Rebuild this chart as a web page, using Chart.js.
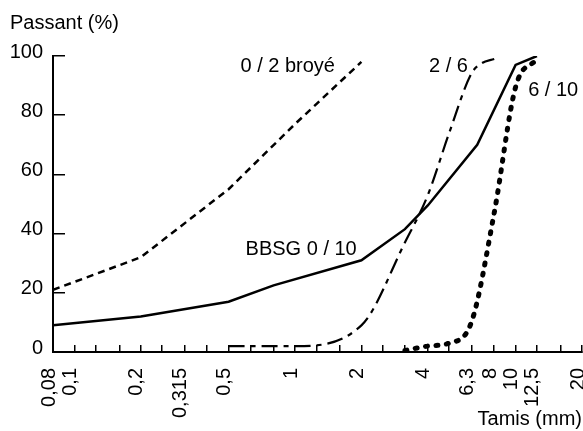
<!DOCTYPE html>
<html>
<head>
<meta charset="utf-8">
<script src="https://cdn.jsdelivr.net/npm/chart.js@4/dist/chart.umd.min.js"></script>
<style>
  html, body { margin: 0; padding: 0; background: #fff; }
  #c { display: block; }
</style>
</head>
<body>
<canvas id="c" width="583" height="431"></canvas>
<script>
// ---- data ----
const sieveSizes = [0.08, 0.1, 0.125, 0.16, 0.2, 0.25, 0.315, 0.4, 0.5, 0.63, 0.8, 1, 1.25, 1.6, 2, 2.5, 3.15, 4, 5, 6.3, 8, 10, 12.5, 16, 20];
const sieveLabels = [0.08, 0.1, 0.2, 0.315, 0.5, 1, 2, 4, 6.3, 8, 10, 12.5, 20];
const yTicks = [0, 20, 40, 60, 80, 100];

const broyeX = [0.08, 0.2, 0.5, 1, 2];
const broyeY = [21, 32, 55, 77, 98];

const bbsgX = [0.08, 0.2, 0.5, 0.8, 2, 3.15, 4, 6.7, 10, 12.5];
const bbsgY = [9, 12, 17, 22.5, 31, 41.5, 49.5, 70, 97, 100];

const g26X = [0.5, 1, 2, 3.15, 4, 5, 6.3, 7, 8];
const g26Y = [2, 2, 9, 37, 53, 74, 94, 97.5, 99];

const g610X = [3.15, 4, 5, 6.3, 8, 10, 12.5];
const g610Y = [0.5, 2, 3, 10, 47, 89.5, 99];

const annText = ['0 / 2 broyé', '2 / 6', '6 / 10', 'BBSG 0 / 10'];
const annX = [0.566, 4.05, 11.4, 0.597];
const annY = [96.3, 96.5, 88.2, 34.5];

// ---- chart ----
const FONT = "'Liberation Sans', Arial, Helvetica, sans-serif";
const FS = 20;
const pts = (xs, ys) => xs.map((x, i) => ({ x: x, y: ys[i] }));

const annotations = {
  id: 'annotations',
  afterDatasetsDraw(chart) {
    const { ctx, scales } = chart;
    ctx.save();
    ctx.fillStyle = '#000';
    ctx.font = FS + 'px ' + FONT;
    ctx.textAlign = 'left';
    ctx.textBaseline = 'middle';
    annText.forEach((t, i) => {
      ctx.fillText(t, scales.x.getPixelForValue(annX[i]), scales.y.getPixelForValue(annY[i]));
    });
    ctx.restore();
  }
};

new Chart(document.getElementById('c'), {
  type: 'line',
  data: {
    datasets: [
      { label: '0 / 2 broyé', data: pts(broyeX, broyeY), borderColor: '#000', borderWidth: 2.5, borderDash: [7, 5], pointRadius: 0, tension: 0, fill: false },
      { label: 'BBSG 0 / 10', data: pts(bbsgX, bbsgY), borderColor: '#000', borderWidth: 2.5, pointRadius: 0, tension: 0, fill: false },
      { label: '2 / 6', data: pts(g26X, g26Y), borderColor: '#000', borderWidth: 2.2, borderDash: [16, 6, 5, 6], pointRadius: 0, cubicInterpolationMode: 'monotone', fill: false },
      { label: '6 / 10', data: pts(g610X, g610Y), borderColor: '#000', borderWidth: 5, borderDash: [2, 8.5], borderCapStyle: 'round', pointRadius: 0, cubicInterpolationMode: 'monotone', fill: false }
    ]
  },
  options: {
    responsive: false,
    animation: false,
    devicePixelRatio: 1,
    layout: { padding: { left: 10, right: 1, top: 0, bottom: 0 } },
    plugins: {
      legend: { display: false },
      tooltip: { enabled: false },
      title: {
        display: true, text: 'Passant (%)', align: 'start', color: '#000',
        font: { family: FONT, size: FS, weight: 'normal' },
        padding: { top: 11, bottom: 21 }
      }
    },
    scales: {
      x: {
        type: 'logarithmic', min: 0.08, max: 20,
        afterBuildTicks: s => { s.ticks = sieveSizes.map(v => ({ value: v })); },
        afterFit: s => { s.height = 79; s.paddingLeft = 0; s.paddingRight = 0; },
        grid: { display: true, drawOnChartArea: false, drawTicks: true, tickLength: -7, color: '#000', lineWidth: 1.5 },
        border: { display: true, color: '#000', width: 2 },
        ticks: {
          autoSkip: false, minRotation: 90, maxRotation: 90, padding: 23, labelOffset: -4,
          color: '#000', font: { family: FONT, size: FS },
          callback: v => sieveLabels.includes(v) ? String(v).replace('.', ',') : ''
        },
        title: {
          display: true, text: 'Tamis (mm)', align: 'end', color: '#000',
          font: { family: FONT, size: FS }, padding: { top: 0, bottom: 0 }
        }
      },
      y: {
        min: 0, max: 100,
        afterBuildTicks: s => { s.ticks = yTicks.map(v => ({ value: v })); },
        afterFit: s => { s.width = 43; s.paddingTop = 0; s.paddingBottom = 0; },
        grid: { display: true, drawOnChartArea: false, drawTicks: true, tickLength: -12, color: '#000', lineWidth: 1.5 },
        border: { display: true, color: '#000', width: 2 },
        ticks: { padding: 22, labelOffset: -4, color: '#000', font: { family: FONT, size: FS } }
      }
    }
  },
  plugins: [annotations]
});
</script>
</body>
</html>
